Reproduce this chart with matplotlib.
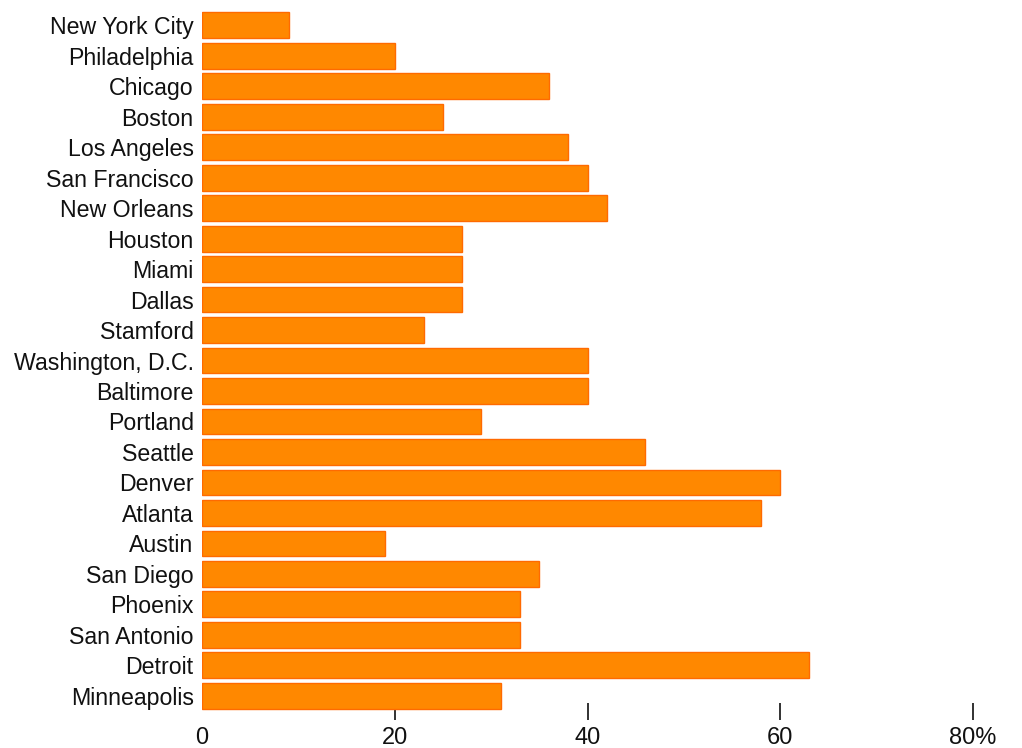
import matplotlib
matplotlib.use("Agg")
import matplotlib.pyplot as plt

cities = ["New York City", "Philadelphia", "Chicago", "Boston", "Los Angeles",
          "San Francisco", "New Orleans", "Houston", "Miami", "Dallas", "Stamford",
          "Washington, D.C.", "Baltimore", "Portland", "Seattle", "Denver", "Atlanta",
          "Austin", "San Diego", "Phoenix", "San Antonio", "Detroit", "Minneapolis"]
values = [9, 20, 36, 25, 38, 40, 42, 27, 27, 27, 23, 40, 40, 29, 46, 60, 58,
          19, 35, 33, 33, 63, 31]
xticks = [0, 20, 40, 60, 80]
xticklabels = ["0", "20", "40", "60", "80%"]

plt.rcParams['font.family'] = ['Liberation Sans', 'DejaVu Sans']

fig = plt.figure(figsize=(10.22, 7.48), dpi=100)
ax = fig.add_axes([202 / 1022, 28 / 748, 771 / 1022, 715 / 748])
ax.set_axisbelow(True)

ax.barh(range(len(cities)), values, height=0.85, color="#ff8800",
        edgecolor="#ff6a00", linewidth=1)

ax.set_xlim(0, 80)
ax.set_ylim(22.79, -0.66)
ax.set_yticks(range(len(cities)))
ax.set_yticklabels(cities, fontsize=16.7, color="#111111")
ax.set_xticks(xticks)
ax.set_xticklabels(xticklabels, fontsize=17, color="#111111")
ax.tick_params(axis="y", length=0, pad=6)
ax.tick_params(axis="x", direction="in", length=12, width=1.3, color="#222222", pad=5)
# no tick mark at zero in the original
ax.xaxis.get_major_ticks()[0].tick1line.set_visible(False)
for s in ax.spines.values():
    s.set_visible(False)

fig.savefig("out.png", dpi=100)
